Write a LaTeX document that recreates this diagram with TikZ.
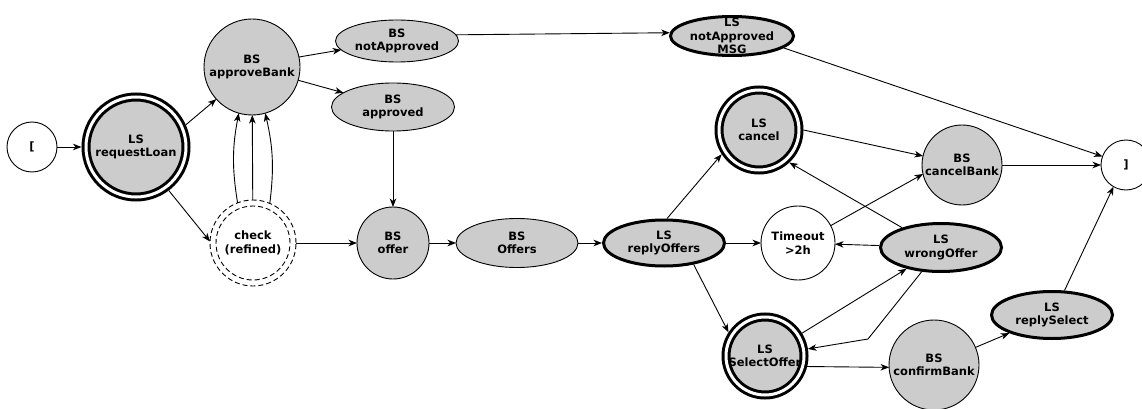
\documentclass[tikz,border=0pt]{standalone}
\usepackage{fontspec}
\setmainfont{DejaVu Sans}
\usetikzlibrary{shapes.geometric,arrows.meta}
\definecolor{stategray}{HTML}{CCCCCC}
\begin{document}
\begin{tikzpicture}[x=1pt,y=-1pt,
  every node/.style={inner sep=0pt, outer sep=0pt},
  txt/.style={font=\fontsize{11.5}{13.3}\selectfont\bfseries, align=center},
  ln/.style={draw, line width=0.9pt},
  plain/.style={ln, circle, fill=white},
  gcirc/.style={ln, circle, fill=stategray},
  gell/.style={ln, ellipse, fill=stategray},
  bell/.style={draw, ellipse, fill=stategray, line width=3pt, outer sep=1.5pt},
  dcirc/.style={draw, circle, fill=stategray, line width=3pt, double=white, double distance=3pt, outer sep=4.5pt},
  dashring/.style={draw, dash pattern=on 5pt off 3pt, line width=0.9pt},
  arr/.style={-{Stealth[length=8.5pt,width=6.5pt,inset=2.5pt]}, line width=0.9pt},
]
\useasboundingbox (0,0) rectangle (1142,409);

% states
\node[plain, minimum size=50, label={[txt]center:{[}}] (st) at (32,147) {};
\node[dcirc, minimum size=100, label={[txt]center:{LS\\requestLoan}}] (rl) at (136,147) {};
\node[gcirc, minimum size=96, label={[txt]center:{BS\\approveBank}}] (ab) at (252,67) {};
\node[gell, minimum width=123, minimum height=42, label={[txt]center:{BS\\notApproved}}] (na) at (397,41) {};
\node[gell, minimum width=123, minimum height=48, label={[txt]center:{BS\\approved}}] (ap) at (393,107) {};
\node[bell, minimum width=123, minimum height=39, label={[txt]center:{LS\\notApproved\\MSG}}] (msg) at (732,36) {};
\node[dashring, circle, fill=white, minimum size=86, label={[txt]center:{check\\(refined)}}] (chk) at (253,243) {};
\draw[dashring] (chk.center) circle[radius=37pt];
\node[gcirc, minimum size=72, label={[txt]center:{BS\\offer}}] (of) at (393,243) {};
\node[gell, minimum width=122, minimum height=49, label={[txt]center:{BS\\Offers}}] (ofs) at (517,243) {};
\node[bell, minimum width=121, minimum height=46, label={[txt]center:{LS\\replyOffers}}] (ro) at (664,243) {};
\node[dcirc, minimum size=80, label={[txt]center:{LS\\cancel}}] (cn) at (759,130) {};
\node[plain, minimum size=74, label={[txt]center:{Timeout\\>2h}}] (to) at (798,243) {};
\node[bell, minimum width=121, minimum height=48, label={[txt]center:{LS\\wrongOffer}}] (wo) at (941,247.5) {};
\node[gcirc, minimum size=80, label={[txt]center:{BS\\cancelBank}}] (cb) at (962,165) {};
\node[plain, minimum size=50, label={[txt]center:{]}}] (en) at (1126,165) {};
\node[dcirc, minimum size=78, label={[txt]center:{LS\\SelectOffer}}] (so) at (765,356) {};
\node[gcirc, minimum size=90, label={[txt]center:{BS\\confirmBank}}] (cf) at (934,365) {};
\node[bell, minimum width=121, minimum height=47, label={[txt]center:{LS\\replySelect}}] (rs) at (1052,315) {};
\coordinate (kink) at (868,339);

% transitions
\draw[arr] (st) -- (rl);
\draw[arr] (rl.24) -- (ab.-138);
\draw[arr] (rl.-53) -- (chk.178);
\draw[arr] (chk.111) to[bend left=10] (ab.-106);
\draw[arr] (chk) -- (ab);
\draw[arr] (chk.67) to[bend right=10] (ab.-74);
\draw[arr] (ab.12) -- (na.-171);
\draw[arr] (ab.-16) -- (ap.164);
\draw[arr] (na.6) -- (msg.177);
\draw[arr] (ap) -- (of);
\draw[arr] (chk) -- (of);
\draw[arr] (of) -- (ofs);
\draw[arr] (ofs) -- (ro);
\draw[arr] (ro) -- (to);
\draw[arr] (wo) -- (to);
\draw[arr] (ro.83) -- (cn.-147);
\draw[arr] (ro.-36) -- (so.147);
\draw[arr] (cn.0) -- (cb.167);
\draw[arr] (to.28) -- (cb.-167);
\draw[arr] (wo.153) -- (cn.-47);
\draw[arr] (msg.-13) -- (en.160);
\draw[arr] (cb) -- (en);
\draw[arr] (so) -- (wo);
\draw[arr] (wo) -- (kink) -- (so);
\draw[arr] (so.-14) -- (cf.-177);
\draw[arr] (cf.23) -- (rs.-157);
\draw[arr] (rs.63) -- (en.-120);
\end{tikzpicture}
\end{document}
